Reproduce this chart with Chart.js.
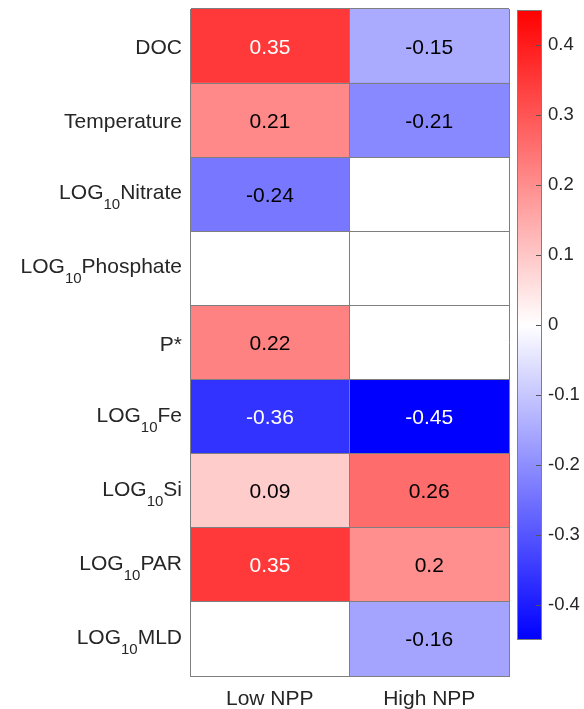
<!DOCTYPE html>
<html>
<head>
<meta charset="utf-8">
<script src="https://cdn.jsdelivr.net/npm/chart.js@4/dist/chart.umd.min.js"></script>
<style>
    html, body { margin: 0; padding: 0; background: #fff; }
    #wrap { position: relative; width: 584px; height: 709px; }
    #heat { position: absolute; left: 0; top: 0; }
    #cbar { position: absolute; left: 510px; top: 0; }
</style>
</head>
<body>
<div id="wrap">
    <canvas id="heat" width="515" height="709"></canvas>
    <canvas id="cbar" width="74" height="709"></canvas>
</div>
<script>
// Data
const rowLabels = ['DOC', 'Temperature', 'LOG10Nitrate', 'LOG10Phosphate', 'P*',
    'LOG10Fe', 'LOG10Si', 'LOG10PAR', 'LOG10MLD'];
const columns = ['Low NPP', 'High NPP'];
const lowNPP = [0.35, 0.21, -0.24, null, 0.22, -0.36, 0.09, 0.35, null];
const highNPP = [-0.15, -0.21, null, null, null, -0.45, 0.26, 0.2, -0.16];
const colorLimit = 0.45;
const cbarTicks = [-0.4, -0.3, -0.2, -0.1, 0, 0.1, 0.2, 0.3, 0.4];

const FONT = '"Liberation Sans", Arial, Helvetica, sans-serif';
const TEXT = '#262626';
const GRID = '#7f7f7f';

// blue - white - red colour map
function colorFor(v) {
    if (v === null) return '#ffffff';
    const t = Math.min(1, Math.abs(v) / colorLimit);
    const c = Math.round(255 * (1 - t));
    return v >= 0 ? `rgb(255, ${c}, ${c})` : `rgb(${c}, ${c}, 255)`;
}

// "LOG10xxx" -> LOG with subscript 10
function drawRowLabel(ctx, label, xRight, yc) {
    ctx.textAlign = 'left';
    ctx.textBaseline = 'alphabetic';
    ctx.fillStyle = TEXT;
    const main = '21px ' + FONT, sub = '15px ' + FONT;
    if (label.startsWith('LOG10')) {
        const rest = label.slice(5);
        ctx.font = main;
        const w1 = ctx.measureText('LOG').width, w3 = ctx.measureText(rest).width;
        ctx.font = sub;
        const w2 = ctx.measureText('10').width;
        let x = xRight - (w1 + w2 + w3);
        const base = yc + 5;
        ctx.font = main; ctx.fillText('LOG', x, base); x += w1;
        ctx.font = sub; ctx.fillText('10', x, base + 10); x += w2;
        ctx.font = main; ctx.fillText(rest, x, base);
    } else {
        ctx.font = main;
        ctx.textAlign = 'right';
        ctx.fillText(label, xRight, yc + 8);
    }
}

const labelPlugin = {
    id: 'heatLabels',
    afterDatasetsDraw(chart) {
        const ctx = chart.ctx;
        ctx.save();
        ctx.font = '21px ' + FONT;
        ctx.textAlign = 'center';
        ctx.textBaseline = 'alphabetic';
        chart.data.datasets.forEach((ds, di) => {
            chart.getDatasetMeta(di).data.forEach((el, i) => {
                const v = ds.values[i];
                if (v === null) return;
                const p = el.getCenterPoint();
                ctx.fillStyle = Math.abs(v) > 0.3 ? '#ffffff' : '#000000';
                ctx.fillText(String(v), p.x, p.y + 7.5);
            });
        });
        ctx.restore();
    },
    afterDraw(chart) {
        const ctx = chart.ctx;
        const { x, y } = chart.scales;
        ctx.save();
        rowLabels.forEach((lab, i) => drawRowLabel(ctx, lab, chart.chartArea.left - 8, y.getPixelForValue(i)));
        ctx.font = '21px ' + FONT;
        ctx.fillStyle = TEXT;
        ctx.textAlign = 'center';
        ctx.textBaseline = 'alphabetic';
        columns.forEach((c, i) => ctx.fillText(c, x.getPixelForValue(i + 0.5), chart.chartArea.bottom + 29));
        ctx.restore();
    }
};

new Chart(document.getElementById('heat'), {
    type: 'bar',
    data: {
        labels: rowLabels,
        datasets: [lowNPP, highNPP].map((vals, i) => ({
            label: columns[i],
            data: vals.map(() => 1),
            values: vals,
            backgroundColor: vals.map(colorFor),
            borderWidth: 0,
            categoryPercentage: 1,
            barPercentage: 1
        }))
    },
    options: {
        indexAxis: 'y',
        responsive: false,
        animation: false,
        layout: { padding: { left: 190, right: 6, top: 9, bottom: 33 } },
        plugins: { legend: { display: false }, tooltip: { enabled: false } },
        scales: {
            x: {
                type: 'linear', stacked: true, min: 0, max: 2,
                ticks: { display: false, stepSize: 1 },
                grid: { color: GRID, drawTicks: false, z: 1 },
                border: { color: GRID, z: 1 }
            },
            y: {
                stacked: true, offset: true,
                ticks: { display: false },
                grid: { offset: true, color: GRID, drawTicks: false, z: 1 },
                border: { color: GRID, z: 1 }
            }
        }
    },
    plugins: [labelPlugin]
});

// colour bar
const cbarTickPlugin = {
    id: 'cbarTicks',
    afterDatasetsDraw(chart) {
        const ctx = chart.ctx, s = chart.scales.y, a = chart.chartArea;
        ctx.save();
        ctx.strokeStyle = '#555555';
        ctx.lineWidth = 1;
        cbarTicks.forEach(v => {
            const py = Math.round(s.getPixelForValue(v)) + 0.5;
            ctx.beginPath();
            ctx.moveTo(a.right - 6, py);
            ctx.lineTo(a.right, py);
            ctx.stroke();
        });
        // outline
        ctx.strokeStyle = GRID;
        ctx.strokeRect(Math.round(a.left) + 0.5, Math.round(a.top) + 0.5,
            Math.round(a.right - a.left) - 1, Math.round(a.bottom - a.top) - 1);
        ctx.restore();
    }
};

new Chart(document.getElementById('cbar'), {
    type: 'bar',
    data: {
        labels: [''],
        datasets: [{
            data: [[-colorLimit, colorLimit]],
            backgroundColor: ctx => {
                const chart = ctx.chart;
                if (!chart.chartArea) return null;
                const s = chart.scales.y;
                const g = chart.ctx.createLinearGradient(0, s.getPixelForValue(-colorLimit), 0, s.getPixelForValue(colorLimit));
                g.addColorStop(0, 'rgb(0, 0, 255)');
                g.addColorStop(0.5, 'rgb(255, 255, 255)');
                g.addColorStop(1, 'rgb(255, 0, 0)');
                return g;
            },
            borderWidth: 0,
            categoryPercentage: 1,
            barPercentage: 1
        }]
    },
    options: {
        responsive: false,
        animation: false,
        layout: { padding: { left: 7, right: 0, top: 10, bottom: 69 } },
        plugins: { legend: { display: false }, tooltip: { enabled: false } },
        scales: {
            x: { display: false },
            y: {
                position: 'right',
                min: -colorLimit, max: colorLimit,
                afterBuildTicks: s => { s.ticks = cbarTicks.map(v => ({ value: v })); },
                afterFit: s => { s.width = 42; s.paddingTop = 0; s.paddingBottom = 0; },
                grid: { display: false, drawTicks: false },
                border: { display: false },
                ticks: {
                    padding: 6,
                    color: TEXT,
                    font: { size: 18.5, family: FONT },
                    callback: v => String(v)
                }
            }
        }
    },
    plugins: [cbarTickPlugin]
});
</script>
</body>
</html>
